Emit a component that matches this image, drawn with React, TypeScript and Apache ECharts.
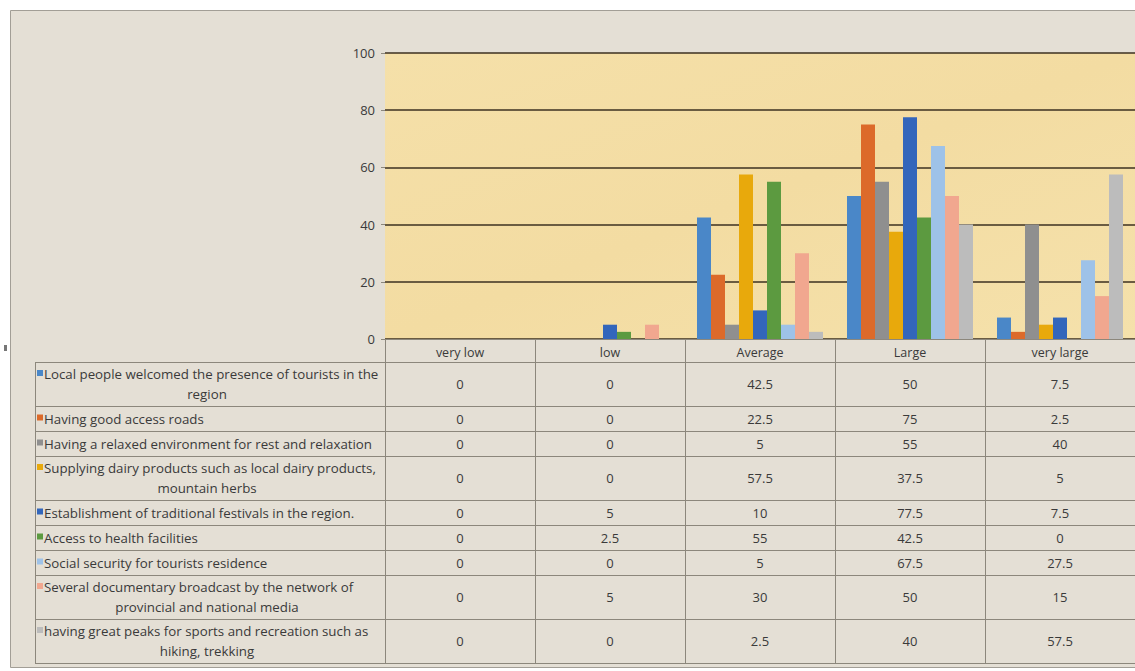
import React, { useEffect, useRef } from "react";
import * as echarts from "echarts";

const categories = ["very low", "low", "Average", "Large", "very large"];

const seriesNames = [
  "Local people welcomed the presence of tourists in the\nregion",
  "Having good access roads",
  "Having a relaxed environment for rest and relaxation",
  "Supplying dairy products such as local dairy products,\nmountain herbs",
  "Establishment of traditional festivals in the region.",
  "Access to health facilities",
  "Social security for tourists residence",
  "Several documentary broadcast by the network of\nprovincial and national media",
  "having great peaks for sports and recreation such as\nhiking, trekking",
];

const localPeople = [0, 0, 42.5, 50, 7.5];
const accessRoads = [0, 0, 22.5, 75, 2.5];
const relaxedEnv = [0, 0, 5, 55, 40];
const dairyProducts = [0, 0, 57.5, 37.5, 5];
const festivals = [0, 5, 10, 77.5, 7.5];
const healthFacilities = [0, 2.5, 55, 42.5, 0];
const socialSecurity = [0, 0, 5, 67.5, 27.5];
const documentary = [0, 5, 30, 50, 15];
const greatPeaks = [0, 0, 2.5, 40, 57.5];

const seriesValues = [
  localPeople,
  accessRoads,
  relaxedEnv,
  dairyProducts,
  festivals,
  healthFacilities,
  socialSecurity,
  documentary,
  greatPeaks,
];

const colors = [
  "#4a87c8",
  "#dc6a2a",
  "#8f8f8f",
  "#e8a90c",
  "#3366bb",
  "#5c9a40",
  "#9ec2e8",
  "#f1a78f",
  "#bcbcbc",
];

const yTicks = { min: 0, max: 100, interval: 20 };

export default function App() {
  const ref = useRef<HTMLDivElement>(null);

  useEffect(() => {
    if (!ref.current) return;
    const chart = echarts.init(ref.current, undefined, { renderer: "svg" });

    const W = 1135;
    const gridLeft = 385;
    const gridTop = 53;
    const gridBottomY = 339;
    const colW = (W - gridLeft) / categories.length;
    const tableLeft = 35;
    const tableTop = 362;
    const singleH = 25;
    const doubleH = 44;
    const textColor = "#3a3a3a";
    const lineColor = "#8c877c";
    const font = "Open Sans";
    const fs = 13;
    const labelFs = 13.3;

    const graphic: any[] = [];
    graphic.push({
      type: "rect",
      z: -100,
      shape: { x: 10.5, y: 10.5, width: W + 10, height: 657 },
      style: { fill: "#e4dfd5", stroke: "#a29e96", lineWidth: 1 },
    });
    graphic.push({
      type: "rect",
      z: -100,
      shape: { x: 4, y: 345, width: 3, height: 6 },
      style: { fill: "#777" },
    });

    let y = tableTop;
    const rowBounds: number[] = [y];
    seriesNames.forEach((name, i) => {
      const lines = name.split("\n");
      const h = lines.length > 1 ? doubleH : singleH;
      const cy = y + h / 2;
      const firstLineY = lines.length > 1 ? cy - 10 : cy;
      graphic.push({
        type: "rect",
        z: 10,
        shape: { x: 37, y: firstLineY - 4, width: 6, height: 6 },
        style: { fill: colors[i] },
      });
      if (lines.length > 1) {
        graphic.push({
          type: "text",
          z: 10,
          x: 44,
          y: cy - 10,
          style: {
            text: lines[0],
            fill: textColor,
            font: `${labelFs}px "${font}"`,
            textAlign: "left",
            textVerticalAlign: "middle",
          },
        });
        graphic.push({
          type: "text",
          z: 10,
          x: (tableLeft + gridLeft) / 2 - 3,
          y: cy + 10,
          style: {
            text: lines[1],
            fill: textColor,
            font: `${labelFs}px "${font}"`,
            textAlign: "center",
            textVerticalAlign: "middle",
          },
        });
      } else {
        graphic.push({
          type: "text",
          z: 10,
          x: 44,
          y: cy,
          style: {
            text: lines[0],
            fill: textColor,
            font: `${labelFs}px "${font}"`,
            textAlign: "left",
            textVerticalAlign: "middle",
          },
        });
      }
      seriesValues[i].forEach((v, j) => {
        graphic.push({
          type: "text",
          z: 10,
          x: gridLeft + colW * (j + 0.5),
          y: cy,
          style: {
            text: String(v),
            fill: textColor,
            font: `${fs}px "${font}"`,
            textAlign: "center",
            textVerticalAlign: "middle",
          },
        });
      });
      y += h;
      rowBounds.push(y);
    });
    rowBounds.forEach((by) => {
      graphic.push({
        type: "line",
        z: 5,
        shape: { x1: tableLeft, y1: Math.round(by) + 0.5, x2: W + 5, y2: Math.round(by) + 0.5 },
        style: { stroke: lineColor, lineWidth: 1 },
      });
    });
    const tableBottom = rowBounds[rowBounds.length - 1];
    graphic.push({
      type: "line",
      z: 5,
      shape: { x1: tableLeft + 0.5, y1: tableTop, x2: tableLeft + 0.5, y2: tableBottom },
      style: { stroke: lineColor, lineWidth: 1 },
    });
    for (let j = 0; j < categories.length; j++) {
      const x = Math.round(gridLeft + colW * j) + 0.5;
      graphic.push({
        type: "line",
        z: 5,
        shape: { x1: x, y1: gridBottomY, x2: x, y2: tableBottom },
        style: { stroke: lineColor, lineWidth: 1 },
      });
    }

    const option: any = {
      animation: false,
      backgroundColor: "#ffffff",
      grid: {
        left: gridLeft,
        top: gridTop,
        width: W - gridLeft,
        height: gridBottomY - gridTop,
        show: true,
        borderWidth: 0,
        backgroundColor: {
          type: "linear",
          x: 0,
          y: 0,
          x2: 1,
          y2: 1,
          colorStops: [
            { offset: 0, color: "#f5e0a9" },
            { offset: 0.5, color: "#f3dca2" },
            { offset: 1, color: "#f5e1ab" },
          ],
        },
      },
      xAxis: {
        type: "category",
        data: categories,
        axisLine: { show: true, lineStyle: { color: "#8c877c", width: 1 } },
        axisTick: { show: false },
        axisLabel: {
          color: textColor,
          fontFamily: font,
          fontSize: 12.5,
          margin: 7,
        },
      },
      yAxis: {
        type: "value",
        min: yTicks.min,
        max: yTicks.max,
        interval: yTicks.interval,
        axisLine: { show: false },
        axisTick: { show: true, length: 4, lineStyle: { color: "#8c877c" } },
        axisLabel: {
          color: textColor,
          fontFamily: font,
          fontSize: 13,
          margin: 10,
        },
        splitLine: { show: true, lineStyle: { color: "#3c3020", width: 1.5 } },
      },
      series: seriesNames.map((name, i) => ({
        type: "bar",
        name: name.replace("\n", " "),
        data: seriesValues[i],
        barGap: "0%",
        barCategoryGap: "16%",
        itemStyle: { color: colors[i] },
        z: 3,
      })),
      graphic,
    };

    chart.setOption(option);
    return () => chart.dispose();
  }, []);

  return (
    <div
      ref={ref}
      style={{ position: "fixed", left: 0, top: 0, width: 1135, height: 671 }}
    />
  );
}
